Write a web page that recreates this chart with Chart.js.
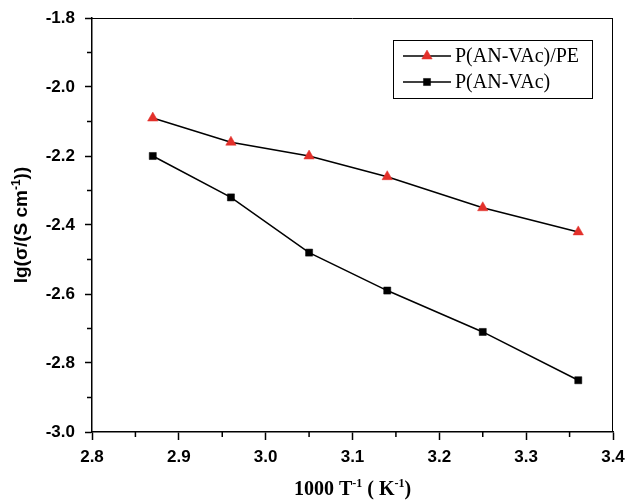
<!DOCTYPE html>
<html><head><meta charset="utf-8">
<script src="https://cdn.jsdelivr.net/npm/chart.js@4"></script>
<style>html,body{margin:0;padding:0;background:#fff}#wrap{width:627px;height:500px}</style>
</head><body><div id="wrap"><canvas id="c" width="627" height="500"></canvas></div>
<script>
// ---- data ----
const xValues = [2.87, 2.96, 3.05, 3.14, 3.25, 3.36];
const seriesPE = [-2.09, -2.16, -2.20, -2.26, -2.35, -2.42];
const seriesCopolymer = [-2.20, -2.32, -2.48, -2.59, -2.71, -2.85];
const seriesNames = ['P(AN-VAc)/PE', 'P(AN-VAc)'];
const xRange = [2.8, 3.4];
const yRange = [-3.0, -1.8];
const xMinorTicks = [2.85, 2.95, 3.05, 3.15, 3.25, 3.35];
const yMinorTicks = [-2.9, -2.7, -2.5, -2.3, -2.1, -1.9];
const xTitleParts = [['1000 T', false], ['-1', true], [' ( K', false], ['-1', true], [')', false]];
const yTitleParts = [['lg(\u03c3/(S cm', false], ['-1', true], ['))', false]];

const RED = '#e3302a';
const SANS = "'Liberation Sans', Arial, sans-serif";
const SERIF = "'Liberation Serif', 'Times New Roman', serif";

function pts(ys) { return xValues.map((x, i) => ({ x: x, y: ys[i] })); }

function measureRich(ctx, parts, size, family, weight) {
  let w = 0;
  parts.forEach(([t, sup]) => {
    ctx.font = weight + ' ' + (sup ? Math.round(size * 0.62) : size) + 'px ' + family;
    w += ctx.measureText(t).width;
  });
  return w;
}
function paintRich(ctx, parts, size, family, weight, x0, y0) {
  let x = x0;
  parts.forEach(([t, sup]) => {
    ctx.font = weight + ' ' + (sup ? Math.round(size * 0.62) : size) + 'px ' + family;
    ctx.fillText(t, x, sup ? y0 - size * 0.38 : y0);
    x += ctx.measureText(t).width;
  });
}

const decorPlugin = {
  id: 'decor',
  afterDraw(chart) {
    const ctx = chart.ctx, a = chart.chartArea;
    const xs = chart.scales.x, ys = chart.scales.y;
    ctx.save();
    ctx.strokeStyle = '#000';
    // frame top & right
    ctx.lineWidth = 1;
    ctx.beginPath();
    ctx.moveTo(a.left, a.top + 0.5); ctx.lineTo(a.right, a.top + 0.5);
    ctx.moveTo(a.right - 0.5, a.top); ctx.lineTo(a.right - 0.5, a.bottom);
    ctx.stroke();
    // minor ticks
    ctx.lineWidth = 1.5;
    ctx.beginPath();
    xMinorTicks.forEach(v => { const p = xs.getPixelForValue(v); ctx.moveTo(p, a.bottom); ctx.lineTo(p, a.bottom + 5); });
    yMinorTicks.forEach(v => { const p = ys.getPixelForValue(v); ctx.moveTo(a.left, p); ctx.lineTo(a.left - 5, p); });
    ctx.stroke();
    // axis titles
    ctx.fillStyle = '#000';
    ctx.textBaseline = 'alphabetic';
    ctx.textAlign = 'left';
    const xw = measureRich(ctx, xTitleParts, 20, SERIF, 'bold');
    paintRich(ctx, xTitleParts, 20, SERIF, 'bold', (a.left + a.right) / 2 - xw / 2, 495);
    const yw = measureRich(ctx, yTitleParts, 19, SANS, 'bold');
    ctx.translate(27, (a.top + a.bottom) / 2);
    ctx.rotate(-Math.PI / 2);
    paintRich(ctx, yTitleParts, 19, SANS, 'bold', -yw / 2, 0);
    ctx.restore();

    // legend
    ctx.save();
    const bx = 393, by = 40, bw = 199, bh = 58;
    ctx.strokeStyle = '#000'; ctx.lineWidth = 1;
    ctx.strokeRect(bx + 0.5, by + 0.5, bw, bh);
    chart.data.datasets.forEach((ds, i) => {
      const y = by + 16 + i * 26;
      ctx.strokeStyle = '#000'; ctx.lineWidth = 1.5;
      ctx.beginPath(); ctx.moveTo(403, y); ctx.lineTo(451, y); ctx.stroke();
      ctx.fillStyle = ds.pointBackgroundColor;
      ctx.strokeStyle = ds.pointBorderColor;
      ctx.lineWidth = ds.pointBorderWidth;
      Chart.helpers.drawPoint(ctx, { pointStyle: ds.pointStyle, radius: ds.pointRadius, rotation: 0, borderWidth: ds.pointBorderWidth }, 427, y);
      ctx.fillStyle = '#000';
      ctx.font = '20px ' + SERIF;
      ctx.textBaseline = 'middle';
      ctx.textAlign = 'left';
      ctx.fillText(ds.label, 455, y + 1);
    });
    ctx.restore();
  }
};

new Chart(document.getElementById('c'), {
  type: 'line',
  data: {
    datasets: [
      { label: seriesNames[0], data: pts(seriesPE), borderColor: '#000', borderWidth: 1.5,
        pointStyle: 'triangle', pointRadius: 6, pointBackgroundColor: RED, pointBorderColor: RED, pointBorderWidth: 0.5, tension: 0 },
      { label: seriesNames[1], data: pts(seriesCopolymer), borderColor: '#000', borderWidth: 1.5,
        pointStyle: 'rect', pointRadius: 5, pointBackgroundColor: '#000', pointBorderColor: '#000', pointBorderWidth: 0.5, tension: 0 }
    ]
  },
  options: {
    responsive: false,
    animation: false,
    devicePixelRatio: 1,
    layout: { padding: { left: 0, top: 18, right: 14, bottom: 0 } },
    plugins: { legend: { display: false }, tooltip: { enabled: false }, title: { display: false } },
    scales: {
      x: {
        type: 'linear', min: xRange[0], max: xRange[1],
        ticks: { stepSize: 0.1, callback: v => Number(v).toFixed(1), color: '#000', padding: 7,
                 font: { family: SANS, size: 17, weight: 'bold' }, maxRotation: 0 },
        grid: { drawOnChartArea: false, drawTicks: true, tickLength: 8, tickColor: '#000', tickWidth: 1.5 },
        border: { display: true, color: '#000', width: 1.5 },
        afterFit(scale) { scale.height = 68; scale.paddingLeft = 0; scale.paddingRight = 0; }
      },
      y: {
        type: 'linear', min: yRange[0], max: yRange[1],
        ticks: { stepSize: 0.2, callback: v => Number(v).toFixed(1), color: '#000', padding: 10,
                 font: { family: SANS, size: 17, weight: 'bold' } },
        grid: { drawOnChartArea: false, drawTicks: true, tickLength: 7, tickColor: '#000', tickWidth: 1.5 },
        border: { display: true, color: '#000', width: 1.5 },
        afterFit(scale) { scale.width = 92; scale.paddingTop = 0; scale.paddingBottom = 0; }
      }
    }
  },
  plugins: [decorPlugin]
});
</script></body></html>
